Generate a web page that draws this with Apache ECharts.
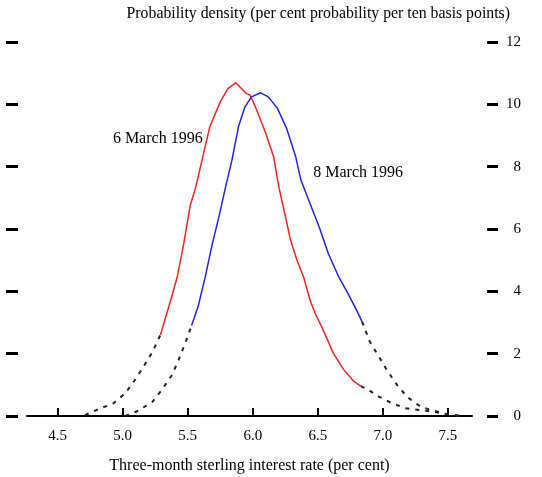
<!DOCTYPE html>
<html>
<head>
<meta charset="utf-8">
<script src="https://cdn.jsdelivr.net/npm/echarts@6/dist/echarts.min.js"></script>
<style>
html,body{margin:0;padding:0;background:#fff;}
#chart{width:542px;height:477px;}
</style>
</head>
<body>
<div id="chart"></div>
<script>
// x tick labels
const xTicks = [4.5, 5.0, 5.5, 6.0, 6.5, 7.0, 7.5];

// 6 March 1996 (red) : [rate, density]
const march6LeftTail = [
  [4.71, 0.03], [4.81, 0.21], [4.93, 0.41], [5.02, 0.73], [5.09, 1.13],
  [5.16, 1.58], [5.23, 2.06], [5.29, 2.60]
];
const march6Body = [
  [5.29, 2.60], [5.37, 3.72], [5.42, 4.47], [5.47, 5.54], [5.52, 6.77],
  [5.56, 7.31], [5.61, 8.21], [5.67, 9.28], [5.75, 10.08], [5.81, 10.51],
  [5.87, 10.69], [5.95, 10.35], [5.98, 10.30], [6.02, 9.92], [6.10, 9.07],
  [6.16, 8.32], [6.20, 7.36], [6.24, 6.61], [6.29, 5.65], [6.34, 5.00],
  [6.39, 4.47], [6.44, 3.72], [6.48, 3.29], [6.53, 2.86], [6.62, 2.01],
  [6.70, 1.48], [6.78, 1.10], [6.83, 0.96]
];
const march6RightTail = [
  [6.83, 0.96], [6.88, 0.86], [6.97, 0.62], [7.06, 0.43], [7.17, 0.25],
  [7.29, 0.19], [7.39, 0.14], [7.49, 0.06], [7.60, 0.00]
];

// 8 March 1996 (blue) : [rate, density]
const march8LeftTail = [
  [5.02, 0.00], [5.12, 0.17], [5.23, 0.46], [5.30, 0.83], [5.38, 1.32],
  [5.43, 1.80], [5.48, 2.33], [5.53, 2.90]
];
const march8Body = [
  [5.53, 2.90], [5.58, 3.51], [5.635, 4.47], [5.69, 5.54], [5.74, 6.39],
  [5.79, 7.33], [5.84, 8.21], [5.89, 9.28], [5.94, 9.92], [5.99, 10.24],
  [6.06, 10.37], [6.12, 10.24], [6.19, 9.87], [6.26, 9.23], [6.33, 8.32],
  [6.37, 7.57], [6.44, 6.82], [6.51, 6.07], [6.58, 5.22], [6.66, 4.47],
  [6.73, 3.94], [6.79, 3.46], [6.84, 3.03]
];
const march8RightTail = [
  [6.84, 3.03], [6.90, 2.38], [6.97, 1.90], [7.03, 1.48], [7.11, 0.99],
  [7.19, 0.60], [7.29, 0.30], [7.39, 0.17], [7.49, 0.06], [7.60, 0.00]
];

// annotation anchors [rate, density]
const label6 = [5.27, 8.89];
const label8 = [6.81, 7.80];

const FONT = '"Liberation Serif", "DejaVu Serif", serif';
const chart = echarts.init(document.getElementById('chart'));

function tail(data) {
  return {
    type: 'line', data: data, symbol: 'none', silent: true,
    lineStyle: { color: '#222', width: 2, type: [4, 6] }, z: 2
  };
}
function body(data, color, labelPos, text) {
  return {
    type: 'line', data: data, symbol: 'none', silent: true,
    lineStyle: { color: color, width: 1.5 }, z: 3,
    markPoint: {
      symbol: 'circle', symbolSize: 0, silent: true,
      label: { show: true, position: 'inside', formatter: text, color: '#000', fontFamily: FONT, fontSize: 16 },
      data: [{ coord: labelPos }]
    }
  };
}

chart.setOption({
  animation: false,
  backgroundColor: '#fff',
  title: {
    text: 'Probability density (per cent probability per ten basis points)',
    right: 27, top: 1,
    textStyle: { fontFamily: FONT, fontSize: 15.8, fontWeight: 'normal', color: '#000' }
  },
  grid: { left: 27, right: 70, top: 42, bottom: 61, outerBoundsMode: 'none', containLabel: false },
  xAxis: {
    type: 'value', min: 4.265, max: 7.685,
    name: 'Three-month sterling interest rate (per cent)',
    nameLocation: 'middle', nameGap: 42,
    nameTextStyle: { fontFamily: FONT, fontSize: 16, color: '#000' },
    axisLine: { show: true, lineStyle: { color: '#000', width: 2 } },
    axisTick: { show: true, inside: true, length: 8, customValues: xTicks, lineStyle: { color: '#000', width: 2 } },
    axisLabel: { customValues: xTicks, margin: 13, color: '#000', fontFamily: FONT, fontSize: 15,
      formatter: v => Number(v).toFixed(1) },
    splitLine: { show: false }
  },
  yAxis: [
    {
      type: 'value', min: 0, max: 12, interval: 2, position: 'left', offset: 9,
      axisLine: { show: false },
      axisTick: { show: true, length: 12, lineStyle: { color: '#000', width: 3 } },
      axisLabel: { show: false },
      splitLine: { show: false }
    },
    {
      type: 'value', min: 0, max: 12, interval: 2, position: 'right', offset: 15,
      axisLine: { show: false },
      axisTick: { show: true, length: 11, lineStyle: { color: '#000', width: 3 } },
      axisLabel: { show: true, align: 'right', margin: 34, color: '#000', fontFamily: FONT, fontSize: 15 },
      splitLine: { show: false }
    }
  ],
  series: [
    tail(march6LeftTail),
    tail(march6RightTail),
    tail(march8LeftTail),
    tail(march8RightTail),
    body(march6Body, '#ff2020', label6, '6 March 1996'),
    body(march8Body, '#2020ff', label8, '8 March 1996')
  ]
});
</script>
</body>
</html>
